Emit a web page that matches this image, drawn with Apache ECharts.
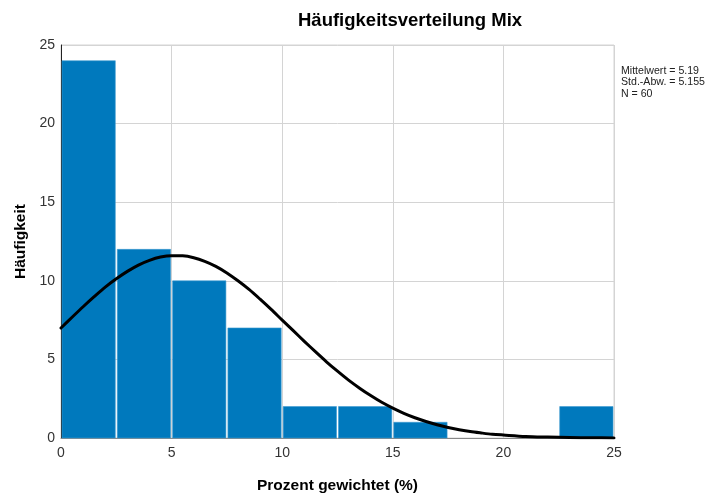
<!DOCTYPE html>
<html>
<head>
<meta charset="utf-8">
<script src="https://cdn.jsdelivr.net/npm/echarts@6/dist/echarts.min.js"></script>
<style>
  html, body { margin: 0; padding: 0; background: #fff; }
  #chart { width: 709px; height: 499px; }
</style>
</head>
<body>
<div id="chart"></div>
<script>
// Histogram bins (width 2.5) and their counts
const binStarts = [0, 2.5, 5, 7.5, 10, 12.5, 15, 17.5, 20, 22.5];
const binWidth = 2.5;
const counts = [24, 12, 10, 7, 2, 2, 1, 0, 0, 2];

// Fitted normal curve, sampled along the percent axis
const curveX = [0, 0.5, 1, 1.5, 2, 2.5, 3, 3.5, 4, 4.5, 5, 5.5, 6, 6.5, 7, 7.5, 8, 8.5, 9, 9.5,
  10, 10.5, 11, 11.5, 12, 12.5, 13, 13.5, 14, 14.5, 15, 15.5, 16, 16.5, 17, 17.5, 18, 18.5, 19, 19.5,
  20, 21, 22, 23, 24, 25];
const curveY = [7.0, 7.68, 8.35, 8.99, 9.6, 10.13, 10.6, 11.0, 11.3, 11.51, 11.6, 11.59, 11.47, 11.24, 10.92, 10.5, 10.0, 9.45, 8.83, 8.18,
  7.5, 6.83, 6.15, 5.49, 4.85, 4.25, 3.68, 3.17, 2.7, 2.27, 1.9, 1.57, 1.29, 1.05, 0.84, 0.67, 0.53, 0.41, 0.32, 0.24,
  0.19, 0.1, 0.06, 0.03, 0.015, 0.007];

// Axis ticks
const xTicks = [0, 5, 10, 15, 20, 25];
const yTicks = [0, 5, 10, 15, 20, 25];

const statsText = ['Mittelwert = 5.19', 'Std.-Abw. = 5.155', 'N = 60'];

const barData = binStarts.map((s, i) => [s, s + binWidth, counts[i]]);
const lineData = curveX.map((x, i) => [x, curveY[i]]);

const FONT = 'Liberation Sans, Arial, sans-serif';

const chart = echarts.init(document.getElementById('chart'), null, { renderer: 'canvas' });
chart.setOption({
  animation: false,
  backgroundColor: '#fff',
  title: {
    text: 'Häufigkeitsverteilung Mix',
    left: 293,
    top: 6,
    textStyle: { fontFamily: FONT, fontSize: 18.5, fontWeight: 'bold', color: '#000' }
  },
  graphic: [{
    type: 'text',
    left: 621,
    top: 65,
    style: {
      text: statsText.join('\n'),
      font: '10.6px ' + FONT,
      fill: '#222',
      lineHeight: 11.5
    }
  }],
  grid: { left: 61, right: 95, top: 45, bottom: 58, show: true, borderColor: '#d4d4d4', borderWidth: 1 },
  xAxis: {
    type: 'value',
    min: xTicks[0],
    max: xTicks[xTicks.length - 1],
    interval: 5,
    name: 'Prozent gewichtet (%)',
    nameLocation: 'middle',
    nameGap: 40,
    nameTextStyle: { fontFamily: FONT, fontSize: 15.5, fontWeight: 'bold', color: '#000' },
    axisLine: { show: true, lineStyle: { color: '#888', width: 1 } },
    axisTick: { show: false },
    axisLabel: { fontFamily: FONT, fontSize: 14, color: '#333', margin: 8 },
    splitLine: { show: true, lineStyle: { color: '#d4d4d4', width: 1 } }
  },
  yAxis: {
    type: 'value',
    min: yTicks[0],
    max: yTicks[yTicks.length - 1],
    interval: 5,
    name: 'Häufigkeit',
    nameLocation: 'middle',
    nameGap: 32,
    nameTextStyle: { fontFamily: FONT, fontSize: 15.5, fontWeight: 'bold', color: '#000' },
    axisLine: { show: true, lineStyle: { color: '#222', width: 1 } },
    axisTick: { show: false },
    axisLabel: { fontFamily: FONT, fontSize: 14, color: '#333', margin: 6 },
    splitLine: { show: true, lineStyle: { color: '#d4d4d4', width: 1 } }
  },
  series: [
    {
      type: 'custom',
      data: barData,
      encode: { x: [0, 1], y: 2 },
      z: 2,
      renderItem: function (params, api) {
        const v = api.value(2);
        if (!v) return null;
        const p0 = api.coord([api.value(0), 0]);
        const p1 = api.coord([api.value(1), v]);
        return {
          type: 'rect',
          shape: { x: p0[0] + 1, y: p1[1], width: p1[0] - p0[0] - 2, height: p0[1] - p1[1] },
          style: { fill: '#0079bd', stroke: '#3d9bd0', lineWidth: 0.6 }
        };
      }
    },
    {
      type: 'line',
      data: lineData,
      smooth: 0.3,
      showSymbol: false,
      z: 3,
      lineStyle: { color: '#000', width: 3, join: 'round', cap: 'round' }
    }
  ]
});
</script>
</body>
</html>
